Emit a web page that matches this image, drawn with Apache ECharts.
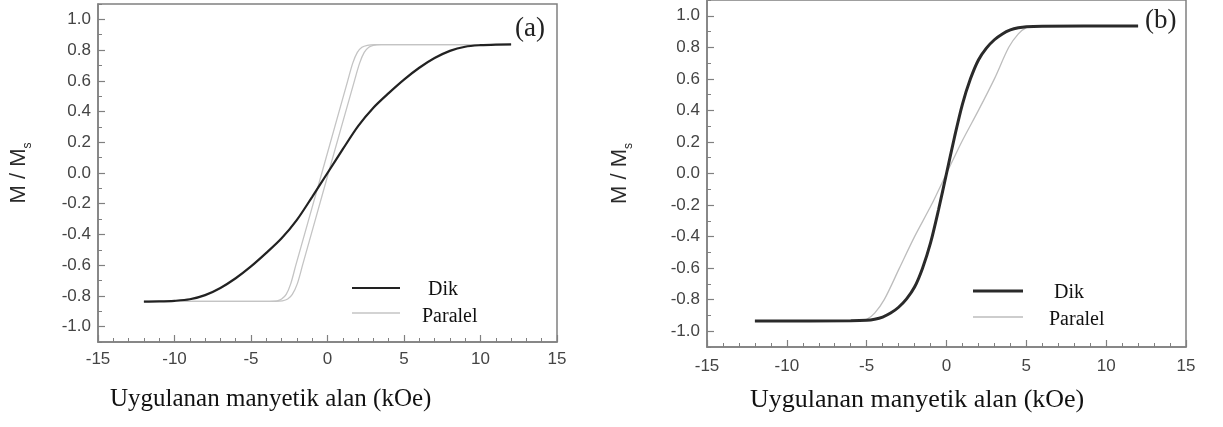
<!DOCTYPE html>
<html><head><meta charset="utf-8">
<script src="https://cdn.jsdelivr.net/npm/echarts@6/dist/echarts.min.js"></script>
<style>html,body{margin:0;padding:0;background:#fff}#c{width:1223px;height:427px}</style>
</head><body><div id="c"></div>
<script>
// ---- data ----
const yMajorTicks = [-1.0, -0.8, -0.6, -0.4, -0.2, 0, 0.2, 0.4, 0.6, 0.8, 1.0];
const xTickLabels = ['-15', '-10', '-5', '0', '5', '10', '15'];
const seriesNames = ['Dik', 'Paralel'];
const xTitle = 'Uygulanan manyetik alan (kOe)';

// panel (a)
const dikA_x = [-12, -11, -10, -9, -8, -7, -6, -5, -4, -3, -2, -1, 0, 1, 2, 3, 4, 5, 6, 7, 8, 9, 10, 11, 12];
const dikA_y = [-0.837, -0.836, -0.832, -0.822, -0.795, -0.748, -0.685, -0.608, -0.52, -0.425, -0.305, -0.155, 0.0, 0.155, 0.305, 0.425, 0.52, 0.608, 0.685, 0.748, 0.795, 0.822, 0.832, 0.836, 0.837];
const parA_up_x = [-12, -3.4, -2.95, -2.6, -2.3, -1.97, -1.63, 0.06, 1.76, 2.1, 2.4, 2.7, 3.0, 3.5, 12];
const parA_up_y = [-0.836, -0.835, -0.832, -0.82, -0.79, -0.72, -0.6, 0, 0.6, 0.715, 0.785, 0.818, 0.831, 0.835, 0.836];
const parA_dn_x = [-12, -3.8, -3.3, -3.0, -2.7, -2.4, -2.07, -0.37, 1.32, 1.65, 1.95, 2.25, 2.6, 3.1, 12];
const parA_dn_y = [-0.836, -0.835, -0.832, -0.82, -0.79, -0.72, -0.6, 0, 0.6, 0.715, 0.785, 0.818, 0.831, 0.835, 0.836];

// panel (b)
const dikB_x = [-12, -6, -5, -4.5, -4, -3.5, -3, -2.5, -2, -1.5, -1, -0.5, 0, 0.5, 1, 1.5, 2, 2.5, 3, 3.5, 4, 4.5, 5, 6, 12];
const dikB_y = [-0.935, -0.934, -0.931, -0.924, -0.91, -0.885, -0.848, -0.795, -0.72, -0.6, -0.44, -0.23, 0, 0.23, 0.44, 0.6, 0.72, 0.795, 0.848, 0.885, 0.91, 0.924, 0.931, 0.934, 0.935];
const parB_x = [-12, -5.5, -5, -4.5, -3.9, -2.95, -2, -0.95, 0, 0.95, 2, 3, 3.9, 4.5, 5, 5.5, 12];
const parB_y = [-0.935, -0.933, -0.925, -0.885, -0.8, -0.6, -0.4, -0.2, 0, 0.2, 0.4, 0.6, 0.8, 0.885, 0.925, 0.933, 0.935];

// ---- build ----
const pairs = (xs, ys) => xs.map((x, i) => [x, ys[i]]);
const AX = '#808080';
const SANS = 'Liberation Sans';
const SERIF = 'Liberation Serif';
const LBL = '#444';
const DIK_A = '#222', PAR_A = '#c4c4c4', DIK_B = '#2a2a2a', PAR_B = '#bdbdbd';

function makeX(gi, margin) {
  return {
    gridIndex: gi, type: 'value', min: -15, max: 15, interval: 5,
    axisLine: { show: true, onZero: false, lineStyle: { color: AX, width: 1.5 } },
    axisTick: { show: true, inside: true, length: 7, lineStyle: { color: AX, width: 1.2 } },
    minorTick: { show: true, splitNumber: 5, length: 4, lineStyle: { color: AX, width: 1 } },
    axisLabel: { margin: margin, fontFamily: SANS, fontSize: 17, color: LBL,
      formatter: v => xTickLabels[Math.round((v + 15) / 5)] },
    splitLine: { show: false }, minorSplitLine: { show: false }
  };
}
function makeYMinor(gi, nameGap) {
  return {
    gridIndex: gi, type: 'value', min: -1.1, max: 1.1, interval: 0.1, position: 'left',
    axisLine: { show: true, onZero: false, lineStyle: { color: AX, width: 1.5 } },
    axisTick: { show: true, inside: true, length: 4, lineStyle: { color: AX, width: 1 } },
    axisLabel: { margin: 7, fontFamily: SANS, fontSize: 17, color: LBL,
      formatter: v => { const k = Math.round(v * 10); return (k % 2 === 0 && Math.abs(k) <= 10) ? (k / 10).toFixed(1) : ''; } },
    splitLine: { show: false },
    name: '{m|M / M}{s|s}', nameLocation: 'middle', nameGap: nameGap, nameRotate: 90,
    nameTextStyle: { fontFamily: SANS, fontSize: 22, color: '#2a2a2a',
      rich: { m: { fontFamily: SANS, fontSize: 22, color: '#2a2a2a', lineHeight: 30 },
              s: { fontFamily: SANS, fontSize: 12, color: '#2a2a2a', lineHeight: 14, verticalAlign: 'bottom' } } }
  };
}
function makeYMajor(gi) {
  return {
    gridIndex: gi, type: 'value', min: -1.1, max: 1.1, interval: 0.1, position: 'left',
    axisLine: { show: false, onZero: false }, axisLabel: { show: false }, splitLine: { show: false },
    axisTick: { show: true, inside: true, length: 7, customValues: yMajorTicks, lineStyle: { color: AX, width: 1.2 } }
  };
}
function line(name, xi, yi, data, color, width, z) {
  return { name: name, type: 'line', xAxisIndex: xi, yAxisIndex: yi, data: data,
    symbol: 'none', showSymbol: false, smooth: 0.3, z: z,
    lineStyle: { color: color, width: width }, silent: true, animation: false };
}
function legendItem(x1, x2, y, color, width, label, tx, ty) {
  return [
    { type: 'line', shape: { x1: x1, y1: y, x2: x2, y2: y }, style: { stroke: color, lineWidth: width }, silent: true },
    { type: 'text', x: tx, y: ty, silent: true,
      style: { text: label, fontFamily: SERIF, fontSize: 20, fill: '#111', verticalAlign: 'middle' } }
  ];
}

const option = {
  backgroundColor: '#fff',
  animation: false,
  grid: [
    { left: 98, top: 4, width: 459, height: 338, show: true, borderColor: AX, borderWidth: 1.5, backgroundColor: 'transparent' },
    { left: 707, top: -1, width: 479, height: 348, show: true, borderColor: AX, borderWidth: 1.5, backgroundColor: 'transparent' }
  ],
  xAxis: [makeX(0, 9), makeX(1, 11)],
  yAxis: [makeYMinor(0, 64), makeYMajor(0), makeYMinor(1, 72), makeYMajor(1)],
  title: [
    { text: xTitle, left: 110, top: 387, padding: 0, textStyle: { fontFamily: SERIF, fontSize: 25, fontWeight: 'normal', color: '#111' } },
    { text: xTitle, left: 750, top: 387, padding: 0, textStyle: { fontFamily: SERIF, fontSize: 26, fontWeight: 'normal', color: '#111' } },
    { text: '(a)', left: 515, top: 15, padding: 0, textStyle: { fontFamily: SERIF, fontSize: 27, fontWeight: 'normal', color: '#222' } },
    { text: '(b)', left: 1145, top: 7, padding: 0, textStyle: { fontFamily: SERIF, fontSize: 27, fontWeight: 'normal', color: '#222' } }
  ],
  graphic: [].concat(
    legendItem(352, 400, 288, DIK_A, 2.2, seriesNames[0], 428, 290),
    legendItem(352, 400, 313, PAR_A, 1.3, seriesNames[1], 422, 317),
    legendItem(973, 1023, 291, DIK_B, 3, seriesNames[0], 1054, 293),
    legendItem(973, 1023, 317, PAR_B, 1.3, seriesNames[1], 1049, 320)
  ),
  series: [
    line(seriesNames[1], 0, 0, pairs(parA_up_x, parA_up_y), PAR_A, 1.3, 2),
    line(seriesNames[1], 0, 0, pairs(parA_dn_x, parA_dn_y), PAR_A, 1.3, 2),
    line(seriesNames[0], 0, 0, pairs(dikA_x, dikA_y), DIK_A, 2.2, 3),
    line(seriesNames[1], 1, 2, pairs(parB_x, parB_y), PAR_B, 1.3, 2),
    line(seriesNames[0], 1, 2, pairs(dikB_x, dikB_y), DIK_B, 3, 3)
  ]
};
const chart = echarts.init(document.getElementById('c'), null, { renderer: 'canvas' });
chart.setOption(option);
</script>
</body></html>
